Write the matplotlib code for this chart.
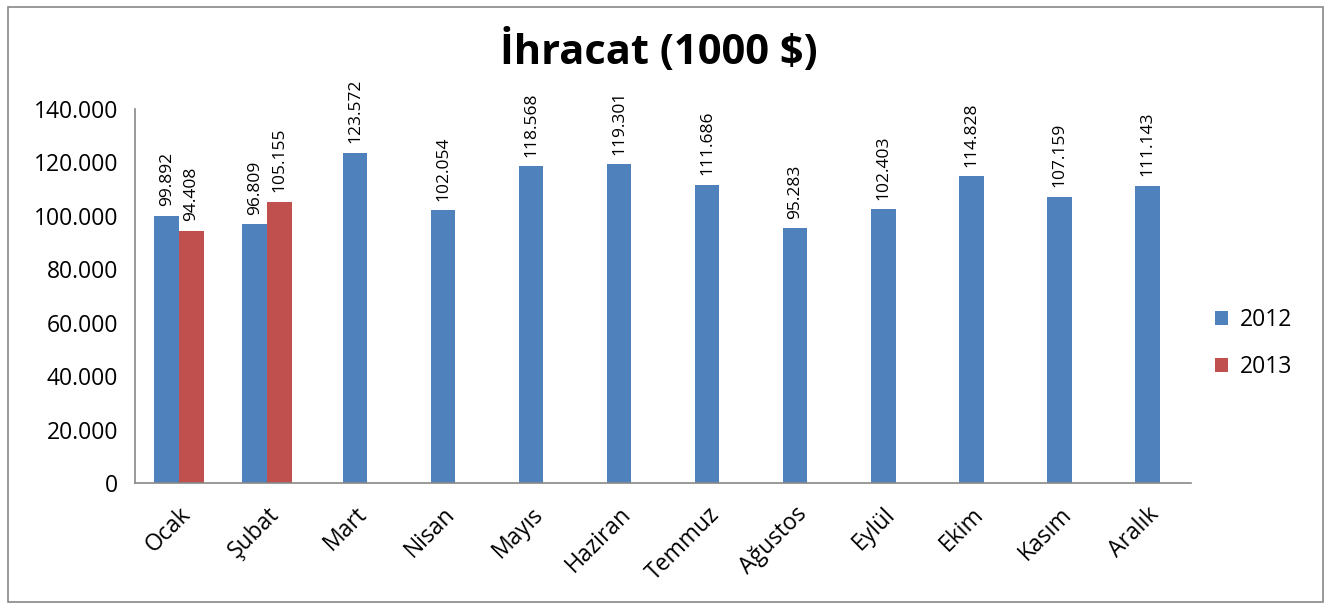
import numpy as np
import matplotlib
matplotlib.use('Agg')
from matplotlib import pyplot as plt
from matplotlib.patches import Rectangle

plt.rcParams['font.family'] = ['Open Sans', 'DejaVu Sans']

months = ['Ocak', 'Şubat', 'Mart', 'Nisan', 'Mayıs', 'Haziran', 'Temmuz',
          'Ağustos', 'Eylül', 'Ekim', 'Kasım', 'Aralık']
y2012 = [99892, 96809, 123572, 102054, 118568, 119301, 111686,
         95283, 102403, 114828, 107159, 111143]
y2013 = [94408, 105155]

blue = '#4f81bd'
red = '#c0504d'

def fmt(v):
    return '{:,}'.format(int(v)).replace(',', '.')

fig = plt.figure(figsize=(13.34, 6.1), dpi=100)
fig.patches.append(Rectangle((0.006, 0.013), 0.986, 0.975, transform=fig.transFigure,
                             fill=False, edgecolor='#888888', lw=1.2))
ax = fig.add_axes([0.1012, 0.2082, 0.7918, 0.6131])

x = np.arange(len(months))
w = 0.28
b1 = ax.bar(x[:len(y2013)] - w / 2, y2012[:len(y2013)], w, color=blue, label='2012')
b1b = ax.bar(x[len(y2013):], y2012[len(y2013):], w, color=blue)
b2 = ax.bar(x[:len(y2013)] + w / 2, y2013, w, color=red, label='2013')

for bars in (b1, b1b, b2):
    for r in bars:
        ax.annotate(fmt(r.get_height()), (r.get_x() + r.get_width() / 2, r.get_height()),
                    xytext=(0, 7), textcoords='offset points', rotation=90,
                    ha='center', va='bottom', fontsize=12.5)

ax.set_xlim(-0.5, len(months) - 0.5)
ax.set_ylim(0, 140000)
ax.set_yticks(np.arange(0, 140001, 20000))
ax.set_yticklabels(['0'] + [fmt(v) for v in np.arange(20000, 140001, 20000)], fontsize=16.5)
ax.set_xticks(x)
ax.set_xticklabels(months, rotation=45, ha='right', rotation_mode='anchor', fontsize=16.5)
ax.tick_params(axis='both', length=0, pad=12)
ax.tick_params(axis='x', pad=14)
for s in ('top', 'right'):
    ax.spines[s].set_visible(False)
for s in ('left', 'bottom'):
    ax.spines[s].set_color('#888888')
    ax.spines[s].set_linewidth(1.2)

fig.text(0.494, 0.915, 'İhracat (1000 $)', ha='center', va='center',
         fontsize=30, fontweight='bold')

leg = fig.legend(handles=[b1, b2], labels=['2012', '2013'], loc='center left',
                 bbox_to_anchor=(0.895, 0.437), frameon=False, fontsize=16.5,
                 handlelength=0.6, handleheight=0.6, labelspacing=1.0, handletextpad=0.5)

fig.savefig('out.png', dpi=100)
